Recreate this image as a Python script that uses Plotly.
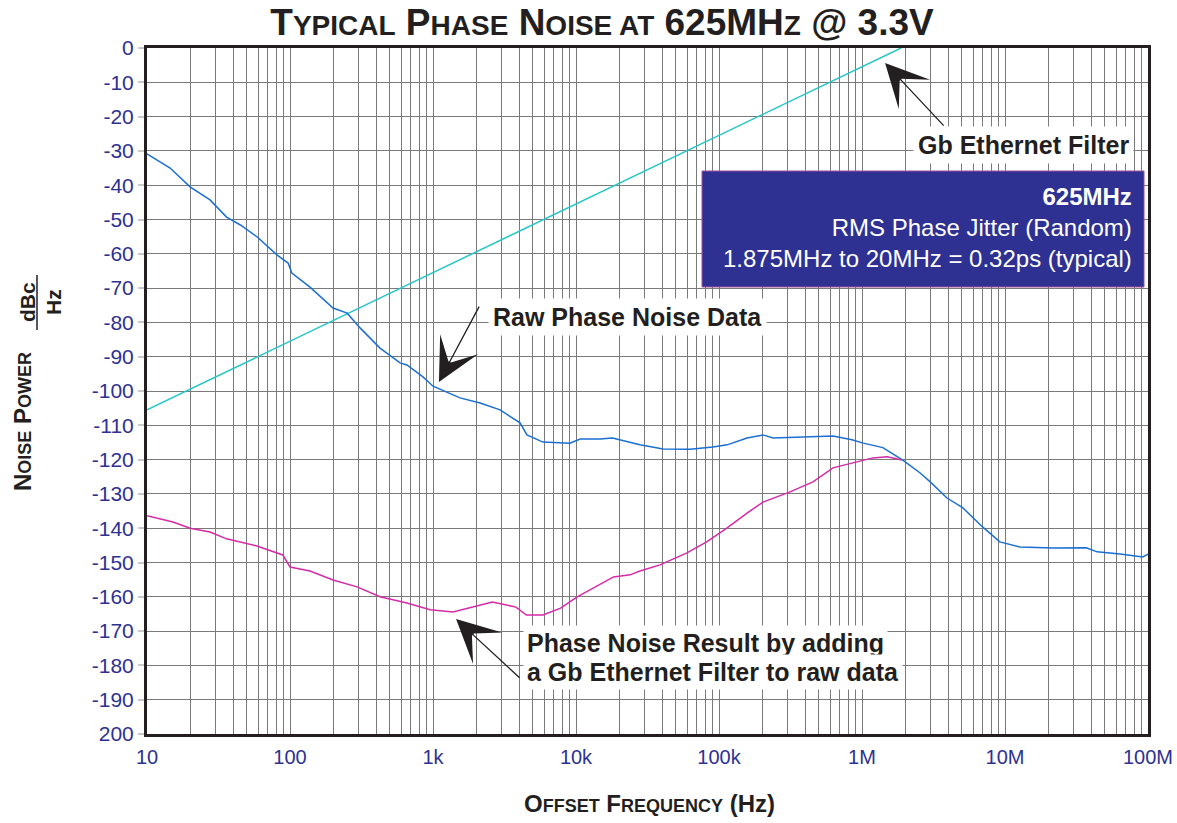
import math
import plotly.graph_objects as go

# ---------------- data ----------------
raw_freq = [10, 14.5, 20, 27.6, 36, 45, 59, 81, 97, 103, 138, 200, 251, 309, 426, 588, 657,
            851, 1000, 1545, 2133, 2946, 4060, 4540, 5870, 9070, 10700, 14700, 18000, 28000,
            40600, 62700, 90800, 114000, 157000, 203000, 239000, 412000, 627000, 851000,
            1020000, 1400000, 1940000, 2550000, 3000000, 3930000, 5080000, 7000000, 9200000,
            12700000, 21700000, 37000000, 44000000, 63700000, 92000000, 100000000]
raw_dbc = [-30.9, -35, -40.5, -44.3, -49.3, -51.6, -55.1, -60.3, -62.7, -65.6, -69.7, -75.8,
           -77.3, -81.6, -87.5, -91.8, -92.4, -95.9, -98.6, -102, -103.5, -105.5, -109.3,
           -112.8, -114.9, -115.2, -114, -114, -113.7, -115.7, -116.9, -117, -116.3, -115.7,
           -113.7, -112.8, -113.7, -113.4, -113.1, -114.2, -115.2, -116.5, -120.2, -123.9,
           -126.5, -131.2, -134.1, -139.7, -144, -145.5, -145.8, -145.7, -146.9, -147.5,
           -148.4, -147.6]

filtered_freq = [10, 15.2, 20, 27.6, 36, 58.7, 89, 100, 138, 200, 294, 426, 657, 955, 1380,
                 1900, 2600, 3800, 4500, 5870, 7800, 10200, 14700, 18300, 23900, 28000, 38700,
                 59700, 82000, 114000, 157000, 203000, 314000, 454000, 627000, 865000,
                 1190000, 1500000, 1900000]
filtered_dbc = [-136.4, -138.2, -140, -141.1, -143.1, -145.2, -147.8, -151.3, -152.5, -155.1,
                -157.1, -160, -161.8, -163.8, -164.4, -163, -161.5, -163, -165.3, -165.3,
                -163.3, -160, -156.3, -154.2, -153.6, -152.5, -150.7, -147.2, -144, -139.9,
                -135.6, -132.4, -129.4, -126.5, -122.4, -121, -119.5, -119.2, -120.1]

filter_freq = [10, 1875000]
filter_dbc = [-105.5, 0]

x_tick_vals = [10, 100, 1e3, 1e4, 1e5, 1e6, 1e7, 1e8]
x_tick_text = ["10", "100", "1k", "10k", "100k", "1M", "10M", "100M"]
y_tick_vals = list(range(-200, 1, 10))
y_tick_text = ["200" if v == -200 else str(v) for v in y_tick_vals]

# ---------------- styling ----------------
FONT = "Liberation Sans, Arial, Helvetica, sans-serif"
INK = "#231f20"
TICKBLUE = "#2e3192"
GRID = "#7a7a7a"

W, H = 1177, 823
L, R, T, B = 147, 1148, 48, 734


def px(xp):
    return (xp - L) / (R - L)


def py(yp):
    return 1 - (yp - T) / (B - T)


def sc(word, small):
    """small caps: first letter big, rest small uppercase"""
    return word[0] + "<span style='font-size:%dpx'>%s</span>" % (small, word[1:].upper())


minor_vals = [k * 10 ** d for d in range(1, 8) for k in range(2, 10)]

fig = go.Figure()
fig.add_trace(go.Scatter(x=filter_freq, y=filter_dbc, mode="lines",
                         line=dict(color="#25c6c8", width=1.5), showlegend=False))
fig.add_trace(go.Scatter(x=raw_freq, y=raw_dbc, mode="lines",
                         line=dict(color="#1b6fd2", width=1.5), showlegend=False))
fig.add_trace(go.Scatter(x=filtered_freq, y=filtered_dbc, mode="lines",
                         line=dict(color="#d62ba6", width=1.5), showlegend=False))

title_text = "<b>%s %s %s 625MH<span style='font-size:28px'>Z</span> @ 3.3V</b>" % (
    sc("Typical", 28), sc("Phase", 28),
    "N<span style='font-size:28px'>OISE AT</span>")

fig.update_layout(
    width=W, height=H,
    margin=dict(l=L, r=W - R, t=T, b=H - B, autoexpand=False),
    paper_bgcolor="white", plot_bgcolor="white",
    font=dict(family=FONT, color=INK),
    title=dict(text=title_text, x=602 / W, xanchor="center", y=1 - 22 / H, yanchor="middle",
               xref="container", yref="container", font=dict(size=37, color=INK, family=FONT)),
    xaxis=dict(type="log", range=[1, 8], tickvals=x_tick_vals, ticktext=x_tick_text,
               automargin=False,
               showgrid=True, gridcolor=GRID, gridwidth=1.3,
               minor=dict(tickvals=minor_vals, showgrid=True, gridcolor=GRID, gridwidth=1.2,
                          ticks=""),
               ticks="", ticklabelstandoff=3,
               tickfont=dict(size=20, color=TICKBLUE, family=FONT),
               showline=True, mirror=True, linewidth=3, linecolor=INK, zeroline=False),
    yaxis=dict(range=[-200, 0], tickvals=y_tick_vals, ticktext=y_tick_text,
               automargin=False,
               showgrid=True, gridcolor=GRID, gridwidth=1.3,
               ticks="outside", ticklen=6, tickcolor="#c8c8c8", tickwidth=1.5,
               tickfont=dict(size=21, color=TICKBLUE, family=FONT),
               showline=True, mirror=True, linewidth=3, linecolor=INK, zeroline=False),
)

# info box
fig.add_shape(type="rect", xref="paper", yref="paper",
              x0=px(702), x1=px(1144), y0=py(287), y1=py(171),
              fillcolor="#2e3192", line=dict(color="#a0509a", width=1), layer="above")
# fraction bar for dBc/Hz
fig.add_shape(type="line", xref="paper", yref="paper",
              x0=px(37), x1=px(37), y0=py(275), y1=py(330),
              line=dict(color=INK, width=1.5))

ann = []
ann.append(dict(text="<b>625MHz</b><br>RMS Phase Jitter (Random)<br>1.875MHz to 20MHz = 0.32ps (typical)",
                xref="paper", yref="paper", x=px(1134), y=py(228), xanchor="right",
                yanchor="middle", align="right", showarrow=False,
                font=dict(size=24, color="white", family=FONT)))
ann.append(dict(text="<b>Gb Ethernet Filter</b>", xref="paper", yref="paper",
                x=px(1134), y=py(145), xanchor="right", yanchor="middle", showarrow=False,
                bgcolor="white", borderpad=4, font=dict(size=25, color=INK, family=FONT)))
ann.append(dict(text="<b>Raw Phase Noise Data</b>", xref="paper", yref="paper",
                x=px(488), y=py(317), xanchor="left", yanchor="middle", showarrow=False,
                bgcolor="white", borderpad=4, font=dict(size=25, color=INK, family=FONT)))
ann.append(dict(text="<b>Phase Noise Result by adding</b>", xref="paper", yref="paper",
                x=px(523), y=py(643), xanchor="left", yanchor="middle", showarrow=False,
                bgcolor="white", borderpad=3, font=dict(size=25, color=INK, family=FONT)))
ann.append(dict(text="<b>a Gb Ethernet Filter to raw data</b>", xref="paper", yref="paper",
                x=px(523), y=py(672), xanchor="left", yanchor="middle", showarrow=False,
                bgcolor="white", borderpad=3, font=dict(size=25, color=INK, family=FONT)))

# arrows (head at data point, tail offset in pixels)
for hx, hy, tx, ty in [(1.45e6, -4.4, 60, 64), (1.1e3, -97.4, 41, -77), (1.45e3, -166.5, 65, 60)]:
    ann.append(dict(text="", x=math.log10(hx), y=hy, xref="x", yref="y", ax=tx, ay=ty,
                    showarrow=True, arrowhead=3, arrowsize=5.5, arrowwidth=1.3,
                    arrowcolor=INK, standoff=0))

# axis titles
ann.append(dict(text="<b>%s %s</b>" % (sc("Noise", 18), sc("Power", 18)),
                xref="paper", yref="paper", x=px(22), y=py(422), textangle=-90,
                xanchor="center", yanchor="middle", showarrow=False,
                font=dict(size=24, color=INK, family=FONT)))
ann.append(dict(text="<b>dBc</b>", xref="paper", yref="paper", x=px(27), y=py(302),
                textangle=-90, xanchor="center", yanchor="middle", showarrow=False,
                font=dict(size=21, color=INK, family=FONT)))
ann.append(dict(text="<b>Hz</b>", xref="paper", yref="paper", x=px(53), y=py(302),
                textangle=-90, xanchor="center", yanchor="middle", showarrow=False,
                font=dict(size=21, color=INK, family=FONT)))
ann.append(dict(text="<b>%s %s (Hz)</b>" % (sc("Offset", 18), sc("Frequency", 18)),
                xref="paper", yref="paper", x=px(649), y=py(803),
                xanchor="center", yanchor="middle", showarrow=False,
                font=dict(size=24, color=INK, family=FONT)))

fig.update_layout(annotations=ann)
fig.write_html("out.html", config={"displayModeBar": False},
               post_script="document.body.style.margin='0px';document.body.style.padding='0px';")
